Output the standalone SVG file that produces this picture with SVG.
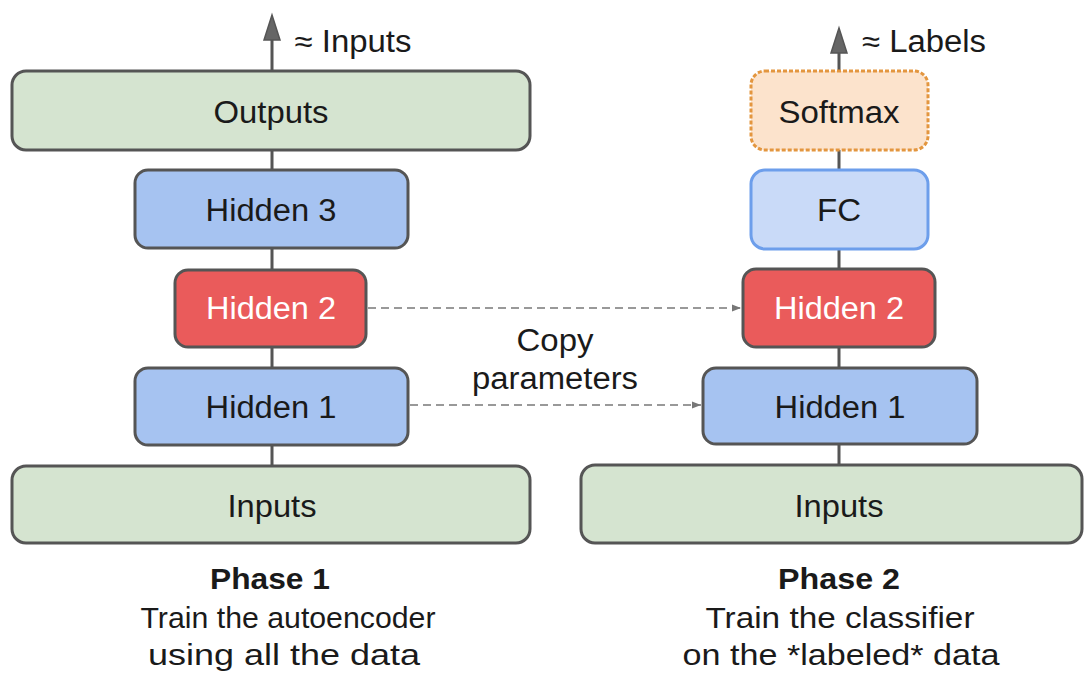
<svg xmlns="http://www.w3.org/2000/svg" width="1084" height="673" viewBox="0 0 1084 673">
<style>
.box{stroke:#555555;stroke-width:3}
.green{fill:#d5e4d0}
.blue{fill:#a6c3f1}
.red{fill:#ea5b5b}
.fc{fill:#c9daf8;stroke:#6d9eeb;stroke-width:3}
.soft{fill:#fce3cc;stroke:#e3963f;stroke-width:3;stroke-dasharray:4 2}
text{font-family:"Liberation Sans",Arial,sans-serif;font-size:31px;text-anchor:middle;fill:#1a1a1a}
.w{fill:#ffffff}
.cap{font-size:30px}
.b{font-weight:bold}
.conn{stroke:#555555;stroke-width:3;fill:none}
.dash{stroke:#999999;stroke-width:2;stroke-dasharray:8 5;fill:none}
</style>
<defs>
<marker id="dh" viewBox="0 0 10 10" refX="10" refY="5" markerWidth="9" markerHeight="9" markerUnits="userSpaceOnUse" orient="auto">
<path d="M0,1 L10,5 L0,9 Z" fill="#777777"/>
</marker>
</defs>
<g id="connectors">
<line class="conn" x1="272" y1="38" x2="272" y2="466"/>
<path d="M272,15 L280,40 L264,40 Z" fill="#666666" stroke="#555555" stroke-width="1.5"/>
<line class="conn" x1="839" y1="50" x2="839" y2="465"/>
<path d="M839,28 L847,53 L831,53 Z" fill="#666666" stroke="#555555" stroke-width="1.5"/>
<line class="dash" x1="368" y1="308" x2="741" y2="308" marker-end="url(#dh)"/>
<line class="dash" x1="410" y1="405" x2="701" y2="405" marker-end="url(#dh)"/>
</g>
<g id="label-inputs-approx"><text x="353" y="52" textLength="117" lengthAdjust="spacingAndGlyphs">≈ Inputs</text></g>
<g id="label-labels-approx"><text x="924" y="52" textLength="124" lengthAdjust="spacingAndGlyphs">≈ Labels</text></g>
<g id="p1-outputs"><rect class="box green" x="12" y="71" width="518" height="79" rx="14"/><text x="271" y="123" textLength="115" lengthAdjust="spacingAndGlyphs">Outputs</text></g>
<g id="p1-hidden3"><rect class="box blue" x="135" y="170" width="273" height="78" rx="13"/><text x="271" y="221" textLength="131" lengthAdjust="spacingAndGlyphs">Hidden 3</text></g>
<g id="p1-hidden2"><rect class="box red" x="175" y="270" width="191" height="77" rx="13"/><text class="w" x="271" y="319" textLength="130" lengthAdjust="spacingAndGlyphs">Hidden 2</text></g>
<g id="p1-hidden1"><rect class="box blue" x="135" y="368" width="273" height="77" rx="13"/><text x="271" y="418" textLength="131" lengthAdjust="spacingAndGlyphs">Hidden 1</text></g>
<g id="p1-inputs"><rect class="box green" x="12" y="466" width="518" height="77" rx="14"/><text x="272" y="517" textLength="89" lengthAdjust="spacingAndGlyphs">Inputs</text></g>
<g id="p2-softmax"><rect class="soft" x="751" y="71" width="177" height="79" rx="14"/><text x="839" y="123" textLength="121" lengthAdjust="spacingAndGlyphs">Softmax</text></g>
<g id="p2-fc"><rect class="fc" x="751" y="170" width="177" height="79" rx="14"/><text x="839" y="221" textLength="44" lengthAdjust="spacingAndGlyphs">FC</text></g>
<g id="p2-hidden2"><rect class="box red" x="743" y="269" width="192" height="78" rx="13"/><text class="w" x="839" y="319" textLength="130" lengthAdjust="spacingAndGlyphs">Hidden 2</text></g>
<g id="p2-hidden1"><rect class="box blue" x="703" y="368" width="274" height="76" rx="13"/><text x="840" y="418" textLength="131" lengthAdjust="spacingAndGlyphs">Hidden 1</text></g>
<g id="p2-inputs"><rect class="box green" x="581" y="465" width="501" height="78" rx="14"/><text x="839" y="517" textLength="89" lengthAdjust="spacingAndGlyphs">Inputs</text></g>
<g id="copy-label"><text x="555" y="351" textLength="77" lengthAdjust="spacingAndGlyphs">Copy</text><text x="555" y="389" textLength="166" lengthAdjust="spacingAndGlyphs">parameters</text></g>
<g id="caption-1"><text class="cap b" x="270" y="589" textLength="120" lengthAdjust="spacingAndGlyphs">Phase 1</text><text class="cap" x="288" y="628" textLength="295" lengthAdjust="spacingAndGlyphs">Train the autoencoder</text><text class="cap" x="284" y="665" textLength="272" lengthAdjust="spacingAndGlyphs">using all the data</text></g>
<g id="caption-2"><text class="cap b" x="839" y="589" textLength="122" lengthAdjust="spacingAndGlyphs">Phase 2</text><text class="cap" x="840" y="628" textLength="269" lengthAdjust="spacingAndGlyphs">Train the classifier</text><text class="cap" x="841" y="665" textLength="317" lengthAdjust="spacingAndGlyphs">on the *labeled* data</text></g>
</svg>
